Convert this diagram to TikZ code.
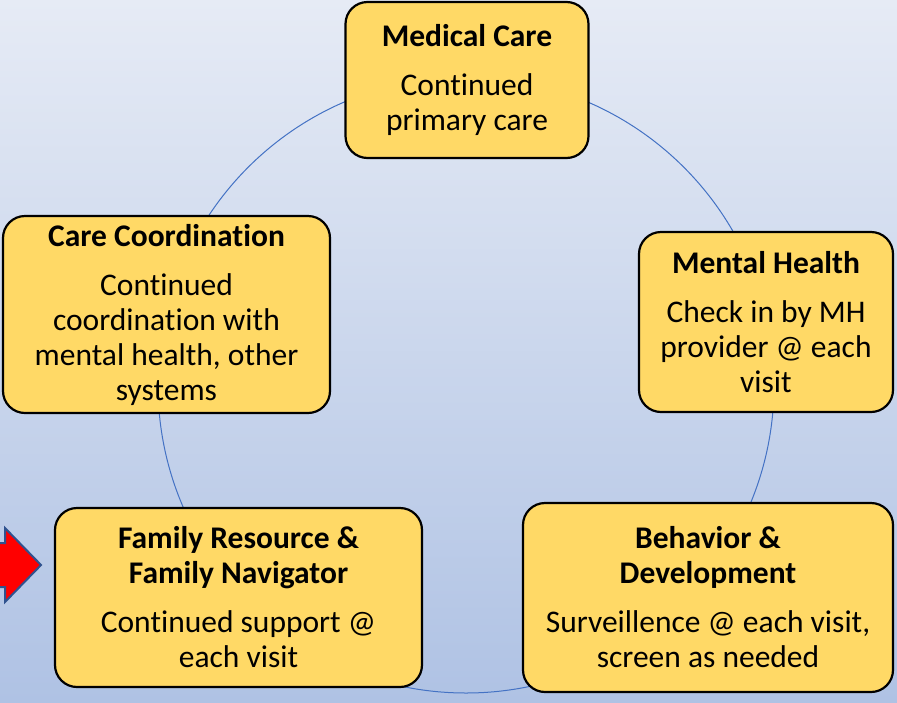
\documentclass[tikz,border=0pt]{standalone}
\usepackage{fontspec}
\setmainfont{Carlito}[Ligatures=NoCommon]
\definecolor{boxfill}{HTML}{FFD966}
\definecolor{ringblue}{HTML}{4472C4}
\definecolor{arrowedge}{HTML}{2F528F}
\definecolor{bgtop}{HTML}{E6EBF5}
\definecolor{bgbottom}{HTML}{AFC2E4}
\newcommand{\stagetitle}[1]{{\bfseries #1}}
\begin{document}
\begin{tikzpicture}[x=1pt, y=-1pt,
  stagebox/.style={draw=black, line width=2.2pt, fill=boxfill, rounded corners=22pt,
    align=center, inner sep=0pt, font=\fontsize{31.5}{35}\selectfont}]
\useasboundingbox (0,0) rectangle (897,702);
\shade[top color=bgtop, bottom color=bgbottom] (0,0) rectangle (897,702);
% the cycle ring behind the boxes
\draw[ringblue, line width=1pt] (466,385) circle (308pt);
% red pointer at the left edge
\draw[arrowedge, line width=2pt, fill=red, line join=miter]
  (-6,543) -- (5,543) -- (5,528) -- (41,565) -- (5,602) -- (5,587) -- (-6,587) -- cycle;
% the five care stages
\node[stagebox, minimum width=243pt, minimum height=156pt] (medical) at (467,80)
  {\stagetitle{Medical Care}\\[14pt] Continued\\primary care};
\node[stagebox, minimum width=327pt, minimum height=197pt] (coord) at (166.5,314.5)
  {\stagetitle{Care Coordination}\\[14pt] Continued\\coordination with\\mental health, other\\systems};
\node[stagebox, minimum width=254pt, minimum height=180pt] (mental) at (766,322)
  {\stagetitle{Mental Health}\\[14pt] Check in by MH\\provider @ each\\visit};
\node[stagebox, minimum width=367pt, minimum height=179pt] (family) at (238.5,597.5)
  {\stagetitle{Family Resource \&}\\\stagetitle{Family Navigator}\\[14pt] Continued support @\\each visit};
\node[stagebox, minimum width=370pt, minimum height=189pt] (behavior) at (708,597.5)
  {\stagetitle{Behavior \&}\\\stagetitle{Development}\\[14pt] Surveillence @ each visit,\\screen as needed};
\end{tikzpicture}
\end{document}
